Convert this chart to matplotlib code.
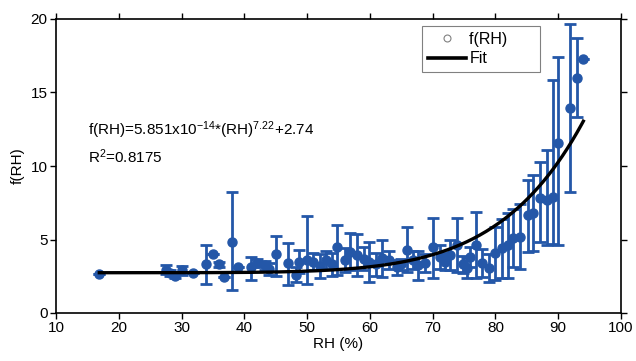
import numpy as np
import matplotlib
matplotlib.use("Agg")
import matplotlib.pyplot as plt
from matplotlib.lines import Line2D

plt.rcParams['font.family'] = ['Liberation Sans', 'DejaVu Sans']
plt.rcParams['mathtext.default'] = 'regular'

rh = [16.9, 27.5, 28.2, 29.0, 30.0, 31.8, 33.9, 35.0, 36.0, 36.8,
      38.0, 39.0, 41.1, 42.0, 43.3, 44.0, 45.0, 47.0, 48.2, 48.7,
      50.0, 51.0, 52.0, 53.0, 54.0, 54.8, 56.0, 56.9, 58.0, 59.0,
      59.9, 61.0, 62.0, 63.0, 64.3, 65.0, 65.9, 66.9, 67.7, 68.8,
      70.0, 71.2, 72.0, 72.8, 73.9, 74.8, 75.5, 76.0, 76.9, 77.9,
      79.0, 80.0, 81.0, 82.0, 82.8, 83.9, 85.2, 86.0, 87.1, 88.2,
      89.2, 90.0, 91.9, 93.0, 94.0]
frh = [2.65, 2.95, 2.75, 2.55, 2.9, 2.7, 3.3, 4.0, 3.3, 2.45,
       4.85, 3.1, 3.1, 3.4, 3.25, 3.0, 4.0, 3.4, 2.6, 3.5,
       3.6, 3.5, 3.2, 3.6, 3.3, 4.5, 3.6, 4.15, 3.95, 3.7,
       3.5, 3.3, 3.75, 3.6, 3.1, 3.3, 4.3, 3.6, 3.25, 3.4,
       4.5, 3.8, 3.5, 3.95, 4.6, 3.3, 3.05, 3.8, 4.6, 3.4,
       3.05, 4.05, 4.4, 4.6, 5.1, 5.2, 6.65, 6.8, 7.8, 7.7,
       7.9, 11.55, 13.95, 16.0, 17.3]
err_lo = [0.0, 0.3, 0.2, 0.2, 0.3, 0.0, 1.3, 0.0, 0.2, 0.0,
          3.3, 0.0, 0.85, 0.3, 0.3, 0.4, 1.5, 1.5, 0.5, 0.8,
          1.6, 0.6, 0.8, 0.6, 0.8, 1.9, 0.8, 1.2, 1.4, 0.8,
          1.4, 0.8, 1.3, 0.6, 0.5, 0.4, 1.5, 0.6, 1.0, 0.6,
          2.1, 0.8, 0.6, 1.0, 1.8, 0.6, 0.7, 0.7, 2.2, 0.95,
          0.95, 1.8, 2.0, 2.2, 2.0, 2.2, 2.5, 2.6, 3.0, 3.1,
          3.2, 6.9, 5.7, 2.7, 0.0]
err_hi = [0.0, 0.3, 0.2, 0.2, 0.3, 0.0, 1.3, 0.0, 0.2, 0.0,
          3.35, 0.0, 0.7, 0.3, 0.3, 0.4, 1.25, 1.35, 0.5, 0.8,
          3.0, 0.6, 0.8, 0.6, 0.8, 1.5, 0.8, 1.3, 1.45, 0.8,
          1.3, 0.8, 1.25, 0.6, 0.5, 0.4, 1.55, 0.6, 1.0, 0.6,
          1.95, 0.8, 0.6, 1.0, 1.85, 0.6, 0.7, 0.7, 2.3, 0.95,
          0.95, 1.8, 2.0, 2.2, 2.0, 2.2, 2.4, 2.6, 2.5, 3.4,
          7.95, 5.85, 5.7, 2.7, 0.0]

# power-law fit f(RH) = a*RH^b + c
fit_a = 5.851e-14
fit_b = 7.22
fit_c = 2.74
r2 = 0.8175

blue = "#2457a8"
fs = 11

fig = plt.figure(figsize=(6.36, 3.61), dpi=100)
ax = fig.add_axes([56/636, 1-313/361, 565/636, 294/361])

ax.errorbar(rh, frh, yerr=[err_lo, err_hi], fmt='o', color=blue, ms=6.5,
            elinewidth=2, capsize=4, capthick=2, zorder=2)

rh_fit = np.linspace(min(rh), max(rh), 300)
ax.plot(rh_fit, fit_a * rh_fit**fit_b + fit_c, color='black', lw=2.4,
        zorder=3)

ax.set_xlim(10, 100)
ax.set_ylim(0, 20)
ax.set_xticks(np.arange(10, 101, 10))
ax.set_yticks(np.arange(0, 21, 5))
ax.tick_params(direction='out', top=True, right=True, labelsize=fs,
               length=4, width=1, pad=2)
for s in ax.spines.values():
    s.set_linewidth(1.2)
ax.set_xlabel("RH (%)", fontsize=fs, labelpad=1)
ax.set_ylabel("f(RH)", fontsize=fs, labelpad=4)

ax.text(15.1, 12.45,
        "f(RH)=%.3fx10$^{-14}$*(RH)$^{%.2f}$+%.2f" % (fit_a * 1e14, fit_b, fit_c),
        fontsize=fs, va='center', ha='left')
ax.text(15.1, 10.6, "R$^{2}$=%.4f" % r2, fontsize=fs, va='center',
        ha='left')

handles = [Line2D([], [], ls='none', marker='o', mfc='white', mec='gray',
                  ms=5, mew=0.8),
           Line2D([], [], color='black', lw=2.6)]
leg = ax.legend(handles, ["f(RH)      ", "Fit"], loc='upper right',
                bbox_to_anchor=(0.857, 0.976), borderaxespad=0,
                fontsize=fs + 0.5, fancybox=False, framealpha=1,
                edgecolor='gray', handlelength=2.4, handletextpad=0.2,
                borderpad=0.35, labelspacing=0.3)
leg.get_frame().set_linewidth(0.8)

fig.savefig("out.png", dpi=100)
